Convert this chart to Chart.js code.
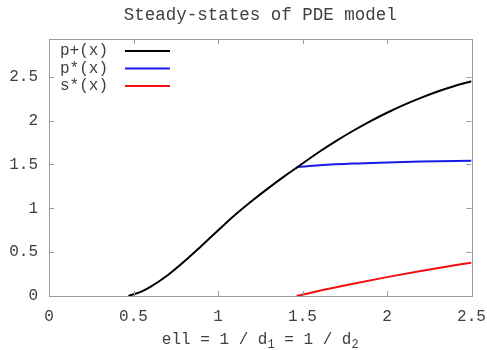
<!DOCTYPE html>
<html>
<head>
<meta charset="utf-8">
<script src="https://cdn.jsdelivr.net/npm/chart.js@4/dist/chart.umd.min.js"></script>
<style>
html,body{margin:0;padding:0;background:#fff;}
#wrap{width:487px;height:350px;}
</style>
</head>
<body>
<div id="wrap"><canvas id="c" width="487" height="350"></canvas></div>
<script>
// ---- data ----
const titleText = "Steady-states of PDE model";
const seriesLabels = ["p+(x)", "p*(x)", "s*(x)"];
const pPlusX = [0.47, 0.55, 0.6, 0.7, 0.8, 0.9, 1.0, 1.1, 1.2, 1.3, 1.4, 1.47, 1.6, 1.7, 1.8, 1.9, 2.0, 2.1, 2.2, 2.3, 2.4, 2.5];
const pPlusY = [0, 0.053, 0.103, 0.233, 0.392, 0.567, 0.747, 0.923, 1.083, 1.233, 1.375, 1.47, 1.645, 1.769, 1.884, 1.991, 2.089, 2.179, 2.259, 2.331, 2.394, 2.448];
const pStarX = [1.47, 1.6, 1.8, 2.0, 2.2, 2.5];
const pStarY = [1.47, 1.49, 1.51, 1.522, 1.532, 1.543];
const sStarX = [1.465, 1.6, 1.8, 2.0, 2.2, 2.4, 2.5];
const sStarY = [0, 0.06, 0.14, 0.215, 0.285, 0.35, 0.38];
const xTicks = [0, 0.5, 1, 1.5, 2, 2.5];
const yTicks = [0, 0.5, 1, 1.5, 2, 2.5];
const xLabelParts = [["ell = 1 / d", false], ["1", true], [" = 1 / d", false], ["2", true]];

const FONT = "'Liberation Mono', 'DejaVu Sans Mono', monospace";
const TXT = '#404040';
const BORDER = '#9a9a9a';

function pts(xs, ys){ return xs.map((x,i)=>({x:x, y:ys[i]})); }

const frame = {
  id: 'frame',
  afterDatasetsDraw(chart){
    const ctx = chart.ctx, a = chart.chartArea;
    const xs = chart.scales.x, ys = chart.scales.y;
    ctx.save();
    ctx.strokeStyle = BORDER; ctx.lineWidth = 1;
    ctx.strokeRect(Math.round(a.left)+0.5, Math.round(a.top)+0.5, Math.round(a.right-a.left), Math.round(a.bottom-a.top));
    ctx.beginPath();
    const tl = 5;
    xTicks.forEach(v=>{
      const px = Math.round(xs.getPixelForValue(v))+0.5;
      ctx.moveTo(px, a.bottom); ctx.lineTo(px, a.bottom-tl);
      ctx.moveTo(px, a.top); ctx.lineTo(px, a.top+tl);
    });
    yTicks.forEach(v=>{
      const py = Math.round(ys.getPixelForValue(v))+0.5;
      ctx.moveTo(a.left, py); ctx.lineTo(a.left+tl, py);
      ctx.moveTo(a.right, py); ctx.lineTo(a.right-tl, py);
    });
    ctx.stroke();
    // title
    ctx.fillStyle = TXT;
    ctx.font = "17.5px " + FONT;
    ctx.textAlign = 'center';
    ctx.textBaseline = 'middle';
    ctx.fillText(titleText, (a.left + a.right)/2, 15);
    // legend
    ctx.font = "16px " + FONT;
    ctx.textBaseline = 'middle';
    ctx.textAlign = 'left';
    chart.data.datasets.forEach((ds,i)=>{
      const y = a.top + 12 + i*17.5;
      ctx.fillStyle = TXT;
      ctx.fillText(ds.label, a.left + 11, y);
      ctx.strokeStyle = ds.borderColor; ctx.lineWidth = 2;
      ctx.beginPath(); ctx.moveTo(a.left + 76, y); ctx.lineTo(a.left + 121, y); ctx.stroke();
    });
    // x label with subscripts
    const big = "16px " + FONT, small = "12px " + FONT;
    let total = 0;
    xLabelParts.forEach(([t,sub])=>{ ctx.font = sub?small:big; total += ctx.measureText(t).width; });
    let x = (a.left + a.right)/2 - total/2;
    const base = 340;
    ctx.fillStyle = TXT;
    xLabelParts.forEach(([t,sub])=>{
      ctx.font = sub?small:big;
      ctx.fillText(t, x, sub ? base+5 : base);
      x += ctx.measureText(t).width;
    });
    ctx.restore();
  }
};

new Chart(document.getElementById('c'), {
  type: 'scatter',
  data: {
    datasets: [
      {label: seriesLabels[0], data: pts(pPlusX, pPlusY), borderColor: '#000000'},
      {label: seriesLabels[1], data: pts(pStarX, pStarY), borderColor: '#1a1ae6'},
      {label: seriesLabels[2], data: pts(sStarX, sStarY), borderColor: '#f01010'}
    ].map(d=>Object.assign(d, {showLine:true, pointRadius:0, borderWidth:2, fill:false, cubicInterpolationMode:'monotone'}))
  },
  plugins: [frame],
  options: {
    responsive: false,
    animation: false,
    layout: {padding: {left: 0, right: 15.5, top: 39, bottom: 0}},
    plugins: {
      legend: {display: false},
      tooltip: {enabled: false},
      title: {display: false}
    },
    scales: {
      x: {
        type: 'linear', min: 0, max: 2.5,
        afterFit(s){ s.height = 54; s.paddingLeft = 0; s.paddingRight = 0; },
        afterBuildTicks(s){ s.ticks = xTicks.map(v=>({value:v})); },
        grid: {display: false, drawTicks: false},
        border: {display: false},
        ticks: {color: TXT, font: {family: FONT, size: 16}, padding: 11, maxRotation: 0, autoSkip: false, callback: v => String(v)}
      },
      y: {
        type: 'linear', min: 0, max: 2.93,
        afterFit(s){ s.width = 49; s.paddingTop = 0; s.paddingBottom = 0; },
        afterBuildTicks(s){ s.ticks = yTicks.map(v=>({value:v})); },
        grid: {display: false, drawTicks: false},
        border: {display: false},
        ticks: {color: TXT, font: {family: FONT, size: 16}, padding: 11, callback: v => String(v)}
      }
    }
  }
});
</script>
</body>
</html>
